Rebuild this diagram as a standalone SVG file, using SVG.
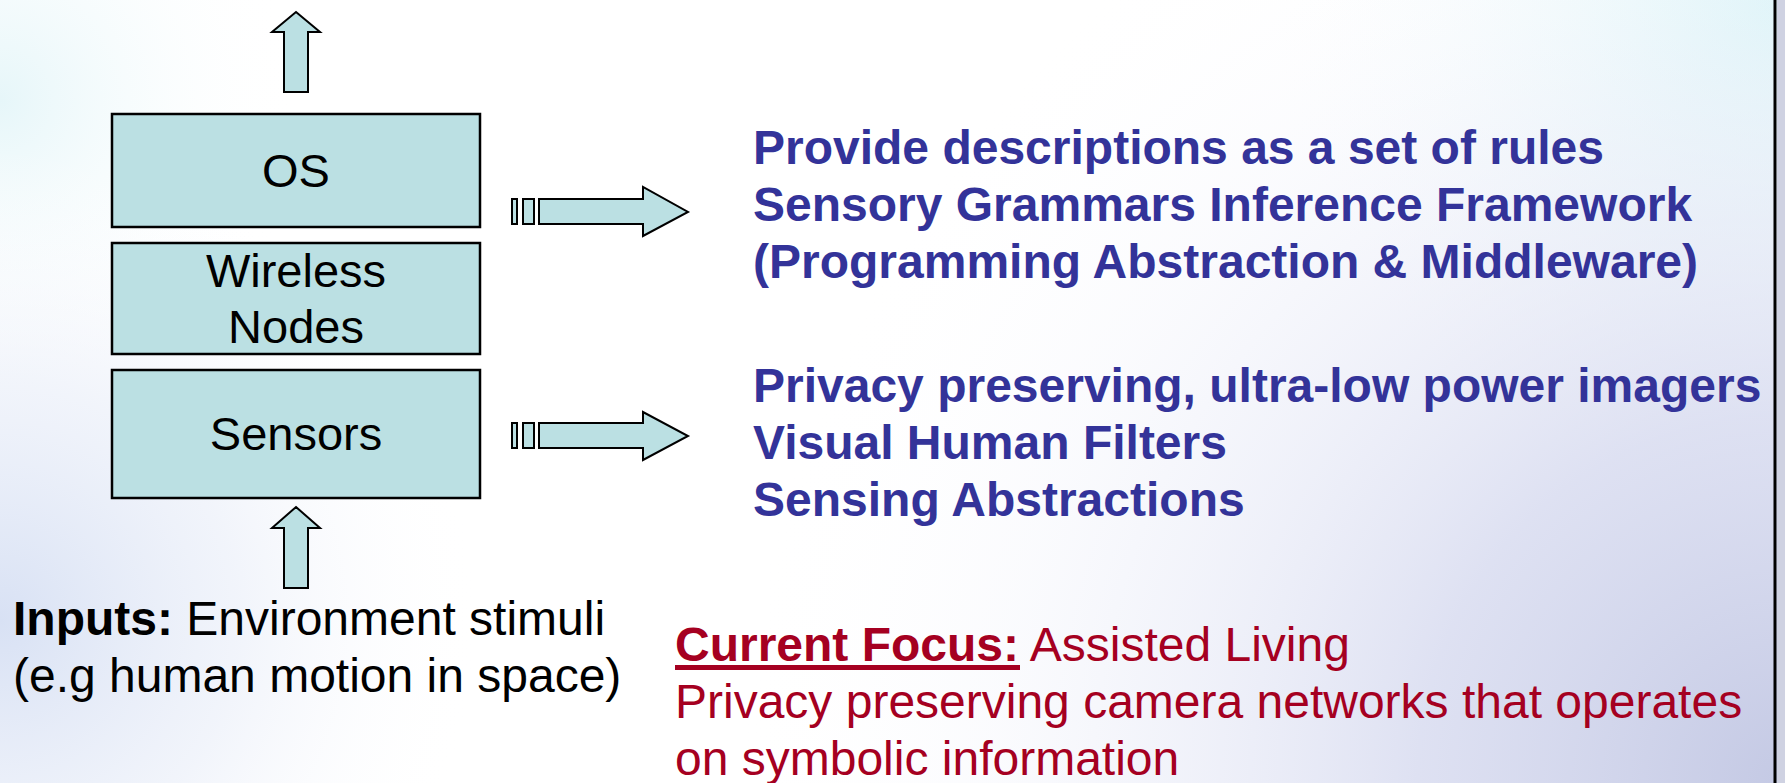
<svg xmlns="http://www.w3.org/2000/svg" width="1785" height="783" viewBox="0 0 1785 783">
  <defs>
    <radialGradient id="bgLavender" gradientUnits="userSpaceOnUse" cx="1785" cy="783" r="1050">
      <stop offset="0" stop-color="#c4c9e4" stop-opacity="1"/>
      <stop offset="0.35" stop-color="#d3d7ee" stop-opacity="0.75"/>
      <stop offset="0.75" stop-color="#e8ebf8" stop-opacity="0.2"/>
      <stop offset="1" stop-color="#ffffff" stop-opacity="0"/>
    </radialGradient>
    <radialGradient id="bgLeft" gradientUnits="userSpaceOnUse" cx="0" cy="620" r="480">
      <stop offset="0" stop-color="#d8e1f4" stop-opacity="1"/>
      <stop offset="0.5" stop-color="#e4eaf7" stop-opacity="0.5"/>
      <stop offset="1" stop-color="#ffffff" stop-opacity="0"/>
    </radialGradient>
    <radialGradient id="bgTopLeft" gradientUnits="userSpaceOnUse" cx="0" cy="100" r="300">
      <stop offset="0" stop-color="#e6f6f9" stop-opacity="1"/>
      <stop offset="1" stop-color="#ffffff" stop-opacity="0"/>
    </radialGradient>
    <radialGradient id="bgTopRight" gradientUnits="userSpaceOnUse" cx="1785" cy="0" r="520">
      <stop offset="0" stop-color="#def7f9" stop-opacity="1"/>
      <stop offset="1" stop-color="#ffffff" stop-opacity="0"/>
    </radialGradient>
    <style>
      .layer { fill: #bbe0e3; stroke: #000000; stroke-width: 2.5; }
      .block { fill: #bbe0e3; stroke: #000000; stroke-width: 2; stroke-linejoin: miter; }
      .label { font-family: "Liberation Sans", Arial, sans-serif; font-size: 47px; fill: #000000; text-anchor: middle; }
      .body { font-family: "Liberation Sans", Arial, sans-serif; font-size: 48px; }
      .blue { fill: #333399; font-weight: bold; }
      .black { fill: #000000; }
      .red { fill: #a50021; }
      .bold { font-weight: bold; }
    </style>
  </defs>

  <!-- slide background -->
  <rect x="0" y="0" width="1785" height="783" fill="#ffffff"/>
  <rect x="0" y="0" width="1785" height="783" fill="url(#bgTopLeft)"/>
  <rect x="0" y="0" width="1785" height="783" fill="url(#bgLeft)"/>
  <rect x="0" y="0" width="1785" height="783" fill="url(#bgTopRight)"/>
  <rect x="0" y="0" width="1785" height="783" fill="url(#bgLavender)"/>
  <!-- right frame edge -->
  <rect x="1777" y="0" width="8" height="783" fill="#cfd2e2"/>
  <line x1="1775" y1="0" x2="1775" y2="783" stroke="#000000" stroke-width="3"/>

  <!-- stack of layers -->
  <g id="node-os">
    <rect class="layer" x="112" y="114" width="368" height="113"/>
    <text class="label" x="296" y="187">OS</text>
  </g>
  <g id="node-wireless">
    <rect class="layer" x="112" y="243" width="368" height="111"/>
    <text class="label" x="296" y="287">Wireless</text>
    <text class="label" x="296" y="343">Nodes</text>
  </g>
  <g id="node-sensors">
    <rect class="layer" x="112" y="370" width="368" height="128"/>
    <text class="label" x="296" y="450">Sensors</text>
  </g>

  <!-- block arrows -->
  <g id="connectors">
    <polygon class="block" points="296,12 320,32 308,32 308,92 284,92 284,32 272,32"/>
    <polygon class="block" points="296,507 320,528 308,528 308,588 284,588 284,528 272,528"/>

    <g id="arrow-os">
      <rect class="block" x="512" y="199" width="5" height="25"/>
      <rect class="block" x="523" y="199" width="11" height="25"/>
      <polygon class="block" points="539,199 643,199 643,187 688,212 643,236 643,224 539,224"/>
    </g>
    <g id="arrow-sensors">
      <rect class="block" x="512" y="423" width="5" height="25"/>
      <rect class="block" x="523" y="423" width="11" height="25"/>
      <polygon class="block" points="539,423 643,423 643,412 688,436 643,460 643,448 539,448"/>
    </g>
  </g>

  <!-- descriptions -->
  <g id="node-middleware">
    <text class="body blue" x="753" y="164">Provide descriptions as a set of rules</text>
    <text class="body blue" x="753" y="221">Sensory Grammars Inference Framework</text>
    <text class="body blue" x="753" y="278">(Programming Abstraction &amp; Middleware)</text>
  </g>
  <g id="node-sensing">
    <text class="body blue" x="753" y="402">Privacy preserving, ultra-low power imagers</text>
    <text class="body blue" x="753" y="459">Visual Human Filters</text>
    <text class="body blue" x="753" y="516">Sensing Abstractions</text>
  </g>
  <g id="node-inputs">
    <text class="body black" x="13" y="635"><tspan class="bold">Inputs:</tspan> Environment stimuli</text>
    <text class="body black" x="13" y="692">(e.g human motion in space)</text>
  </g>
  <g id="node-focus">
    <text class="body red" x="675" y="661"><tspan class="bold">Current Focus:</tspan> Assisted Living</text>
    <rect x="675" y="665" width="345" height="5" fill="#a50021"/>
    <text class="body red" x="675" y="718">Privacy preserving camera networks that operates</text>
    <text class="body red" x="675" y="775">on symbolic information</text>
  </g>
</svg>
